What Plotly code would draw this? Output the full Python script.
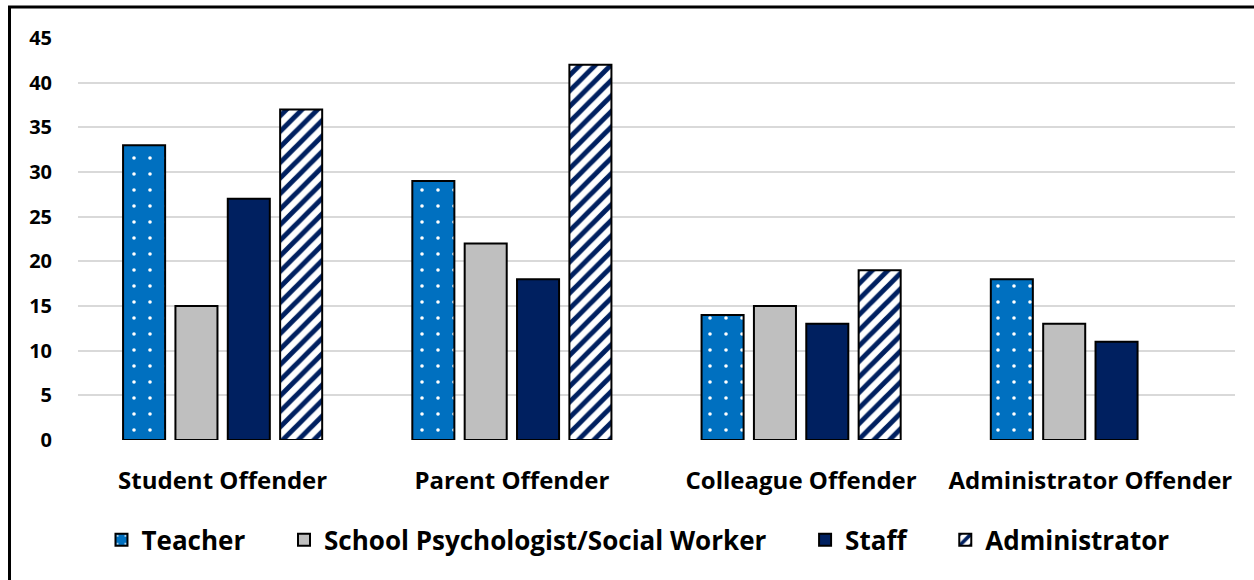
import plotly.graph_objects as go

# Incidents by offender type, split by reporting role
categories = ["Student Offender", "Parent Offender", "Colleague Offender", "Administrator Offender"]
teacher = [33, 29, 14, 18]
psychologist = [15, 22, 15, 13]
staff = [27, 18, 13, 11]
administrator = [37, 42, 19, None]

y_ticks = [0, 5, 10, 15, 20, 25, 30, 35, 40, 45]

FONT = "Open Sans"
BLUE = "#0070C0"
NAVY = "#002060"
GREY = "#BFBFBF"
PAD = "\u00a0" * 5  # spacing between legend entries

fig = go.Figure()

fig.add_trace(go.Bar(
    name="Teacher" + PAD, x=categories, y=teacher,
    marker=dict(
        color=BLUE,
        line=dict(color="black", width=2),
        pattern=dict(shape=".", fgcolor="white", bgcolor=BLUE, fgopacity=1,
                     size=16, solidity=0.04),
    ),
))
fig.add_trace(go.Bar(
    name="School Psychologist/Social Worker" + PAD, x=categories, y=psychologist,
    marker=dict(color=GREY, line=dict(color="black", width=2)),
))
fig.add_trace(go.Bar(
    name="Staff" + PAD, x=categories, y=staff,
    marker=dict(color=NAVY, line=dict(color="black", width=2)),
))
fig.add_trace(go.Bar(
    name="Administrator", x=categories, y=administrator,
    marker=dict(
        color="white",
        line=dict(color="black", width=2),
        pattern=dict(shape="/", fgcolor=NAVY, bgcolor="white", fgopacity=1,
                     size=11, solidity=0.45),
    ),
))

# outer frame around the whole chart
fig.add_shape(
    type="rect", xref="paper", yref="paper",
    x0=-0.0592, x1=1.06, y0=-0.40, y1=1.077,
    line=dict(color="black", width=3), fillcolor="rgba(0,0,0,0)", layer="above",
)

fig.update_layout(
    width=1254, height=580,
    margin=dict(l=78, r=19, t=38, b=140),
    paper_bgcolor="white", plot_bgcolor="white",
    barmode="group", bargap=0.276, bargroupgap=0.197,
    font=dict(family=FONT, color="black"),
    showlegend=True,
    legend=dict(
        orientation="h", x=0.484, xanchor="center", y=-0.19, yanchor="top",
        font=dict(family=FONT, size=26, color="black", weight="bold"),
        itemwidth=30, traceorder="normal",
    ),
    xaxis=dict(
        showgrid=False, showline=False, zeroline=False,
        ticks="outside", ticklen=19, tickcolor="rgba(0,0,0,0)",
        tickfont=dict(family=FONT, size=24, color="black", weight="bold"),
    ),
    yaxis=dict(
        range=[0, 45], tickvals=y_ticks,
        showgrid=True, gridcolor="#D9D9D9", gridwidth=2,
        zeroline=False, showline=False,
        ticks="outside", ticklen=21, tickcolor="rgba(0,0,0,0)",
        tickfont=dict(family=FONT, size=20, color="black", weight="bold"),
    ),
)

fig.write_html("out.html")
